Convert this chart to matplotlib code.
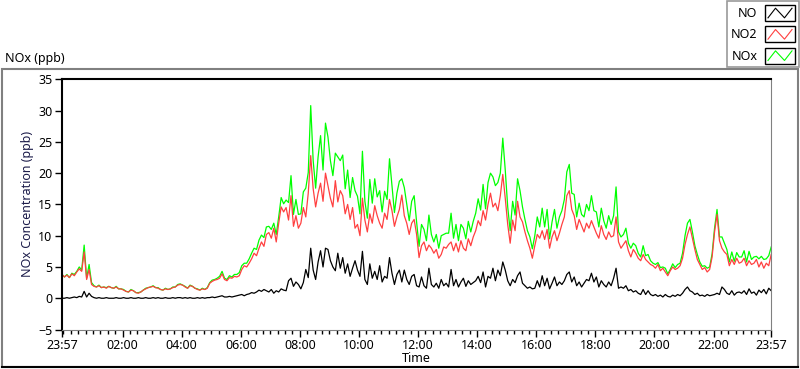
import numpy as np
import matplotlib
matplotlib.use("Agg")
import matplotlib.pyplot as plt
from matplotlib.lines import Line2D
from matplotlib.patches import Rectangle
from matplotlib.legend_handler import HandlerBase

plt.rcParams['font.family'] = ['Noto Sans', 'DejaVu Sans']
plt.rcParams['font.size'] = 9

# 5 minute readings starting 23:57, one row per hour (12 values)
no2 = [
    3.8, 3.4, 3.7, 3.3, 3.9, 3.6, 4.2, 4.7, 4.3, 7.4, 3.0, 4.6,
    2.2, 1.9, 1.8, 2.0, 1.7, 1.8, 1.6, 1.9, 1.7, 1.6, 1.8, 1.5,
    1.5, 1.3, 1.1, 1.0, 1.3, 1.2, 0.9, 0.8, 1.0, 1.3, 1.5, 1.7,
    1.8, 1.9, 1.7, 1.6, 1.4, 1.3, 1.5, 1.4, 1.5, 1.7, 1.8, 2.1,
    2.2, 2.1, 1.8, 1.6, 2.0, 1.9, 1.6, 1.4, 1.3, 1.5, 1.4, 1.6,
    2.4, 2.7, 2.9, 3.0, 3.2, 3.9, 3.0, 2.8, 3.3, 3.2, 3.5, 3.4,
    3.6, 4.6, 5.2, 5.0, 5.6, 6.3, 7.2, 6.8, 8.0, 9.0, 8.3, 10.2,
    10.5, 9.6, 11.2, 9.0, 12.0, 14.6, 13.8, 14.5, 12.5, 16.4, 11.5, 13.2,
    11.2, 12.0, 14.5, 13.0, 16.8, 22.8, 17.5, 14.6, 16.8, 18.4, 15.5, 20.0,
    18.0, 16.0, 14.6, 18.8, 15.4, 17.2, 16.4, 13.5, 15.0, 12.6, 14.5, 11.2,
    11.8, 10.0, 16.0, 12.5, 10.6, 13.5, 12.0, 14.8, 13.2, 12.0, 11.2, 13.6,
    12.6, 15.8, 14.0, 11.5, 13.0, 14.2, 16.5, 13.2, 12.0, 10.2, 12.0, 12.6,
    10.2, 6.5, 8.4, 9.0, 7.6, 8.5, 8.0, 7.2, 7.8, 6.4, 7.0, 8.2,
    8.0, 8.6, 9.0, 7.6, 8.8, 7.4, 9.2, 8.0, 7.6, 9.5, 8.4, 9.8,
    10.8, 12.4, 11.6, 14.0, 12.5, 15.0, 16.8, 14.6, 15.2, 14.0, 16.4, 19.8,
    16.0, 11.8, 8.8, 12.5, 10.8, 15.5, 13.0, 12.2, 10.6, 9.2, 8.0, 6.4,
    8.4, 10.2, 9.6, 10.8, 9.4, 11.0, 8.0, 9.8, 10.8, 9.2, 10.4, 11.8,
    13.0, 16.4, 17.2, 14.2, 13.2, 11.0, 12.6, 11.6, 10.6, 12.0, 11.2, 12.4,
    11.4, 10.4, 9.6, 11.6, 10.2, 9.4, 10.6, 9.8, 10.0, 13.0, 9.0, 8.0,
    8.6, 9.2, 7.6, 6.6, 7.8, 7.2, 6.4, 6.0, 7.0, 6.2, 5.8, 5.4,
    5.2, 4.8, 5.4, 4.4, 4.8, 4.2, 3.6, 4.4, 5.0, 4.6, 4.8, 5.2,
    6.4, 8.6, 10.2, 11.4, 9.6, 7.8, 6.2, 5.4, 4.6, 4.9, 4.2, 4.6,
    6.6, 10.6, 13.4, 9.2, 8.0, 7.4, 7.0, 5.2, 6.2, 5.4, 6.4, 5.6,
    5.8, 6.4, 5.2, 6.0, 5.4, 5.6, 6.2, 5.0, 5.8, 4.8, 5.6, 5.2,
    7.0,
]

no = [
    0.0, 0.0, 0.1, 0.0, 0.1, 0.2, 0.1, 0.3, 0.2, 1.1, 0.2, 0.8,
    0.3, 0.1, 0.0, 0.1, 0.0, 0.0, 0.1, 0.0, 0.0, 0.0, 0.1, 0.0,
    0.0, 0.1, 0.0, 0.0, 0.1, 0.0, 0.0, 0.1, 0.0, 0.0, 0.1, 0.0,
    0.0, 0.1, 0.0, 0.1, 0.0, 0.0, 0.1, 0.0, 0.0, 0.1, 0.0, 0.1,
    0.1, 0.0, 0.1, 0.0, 0.1, 0.0, 0.0, 0.1, 0.0, 0.1, 0.0, 0.1,
    0.1, 0.2, 0.1, 0.2, 0.3, 0.4, 0.2, 0.2, 0.3, 0.2, 0.3, 0.4,
    0.5, 0.6, 0.4, 0.6, 0.7, 0.9, 0.8, 1.0, 1.3, 1.1, 1.4, 1.2,
    1.0, 1.4, 0.8, 1.2, 1.0, 1.5, 1.3, 1.2, 2.8, 3.2, 1.9, 2.6,
    2.2, 1.5, 2.5, 4.6, 3.3, 8.0, 4.5, 3.0, 5.8, 7.6, 5.0, 8.0,
    7.8, 6.0, 5.0, 4.4, 7.2, 4.8, 6.5, 4.0, 5.5, 3.5, 4.8, 6.0,
    4.5, 3.5, 7.5, 3.0, 2.2, 5.5, 3.2, 4.3, 3.0, 5.2, 2.6, 3.5,
    3.2, 6.5, 4.0, 2.2, 3.8, 4.5, 2.6, 4.5, 3.0, 2.2, 3.5, 3.8,
    2.0, 1.8, 3.4, 2.0, 1.6, 4.8, 2.2, 1.8, 2.4, 1.6, 3.0, 2.0,
    2.4, 1.8, 4.6, 2.0, 3.0, 1.8, 2.6, 3.2, 1.9, 2.8, 2.2, 2.5,
    2.8, 3.5, 2.5, 4.2, 1.8, 3.5, 3.2, 4.8, 2.8, 4.5, 3.6, 5.8,
    4.5, 2.8, 2.0, 3.0, 2.5, 3.6, 4.2, 2.4, 2.0, 1.6, 1.8, 1.5,
    1.6, 2.8, 1.8, 3.6, 2.0, 3.2, 1.5, 2.4, 3.4, 2.0, 2.6, 2.2,
    2.8, 3.8, 4.2, 2.6, 3.4, 2.0, 2.6, 1.8, 2.4, 3.0, 2.8, 4.0,
    2.6, 3.4, 1.8, 2.8, 2.2, 1.8, 2.6, 2.0, 3.2, 4.8, 1.6, 1.8,
    1.6, 2.0, 1.2, 1.4, 1.0, 1.2, 0.8, 0.6, 1.4, 0.6, 1.2, 0.6,
    0.4, 0.6, 0.3, 0.5, 0.2, 0.6, 0.3, 0.2, 0.5, 0.3, 0.6, 0.4,
    0.8, 1.4, 1.8, 1.2, 1.0, 0.6, 0.8, 0.4, 0.5, 0.3, 0.6, 0.4,
    0.5, 0.6, 0.8, 0.6, 1.8, 1.4, 0.8, 0.6, 1.2, 0.5, 0.9, 1.0,
    0.8, 1.2, 0.6, 1.5, 0.8, 1.0, 0.5, 1.3, 0.9, 1.4, 0.7, 1.6,
    1.2,
]

start_hour = -0.05     # 23:57 of the previous day
step_hours = 5 / 60
tick_hours = [-0.05, 2, 4, 6, 8, 10, 12, 14, 16, 18, 20, 22, 23.95]
tick_labels = ['23:57', '02:00', '04:00', '06:00', '08:00', '10:00', '12:00',
               '14:00', '16:00', '18:00', '20:00', '22:00', '23:57']

no = np.array(no)
no2 = np.array(no2)
nox = no + no2
t = start_hour + step_hours * np.arange(len(no))

fig = plt.figure(figsize=(8, 3.69), dpi=100)
ax = fig.add_axes([0.0775, 0.107, 0.8865, 0.678])

ax.plot(t, nox, color='#00ff00', lw=0.9)
ax.plot(t, no2, color='#ff4040', lw=0.9)
ax.plot(t, no, color='black', lw=0.9)

ax.set_xlim(-0.05, 23.95)
ax.set_ylim(-5, 35)
ax.set_yticks(range(-5, 36, 5))
ax.set_xticks(tick_hours)
ax.set_xticklabels(tick_labels)
ax.set_xticks(np.arange(0, 24, 0.25), minor=True)
ax.tick_params(axis='both', which='major', length=5, width=1, direction='out', pad=2)
ax.tick_params(axis='x', which='minor', length=3, width=1, direction='out')

ax.spines['left'].set_color('black')
ax.spines['left'].set_linewidth(1.5)
ax.spines['top'].set_color('black')
ax.spines['top'].set_linewidth(1.5)
ax.spines['right'].set_color('#808080')
ax.spines['bottom'].set_color('#808080')

ax.set_xlabel('Time', labelpad=0)
ax.set_ylabel('NOx Concentration (ppb)', labelpad=3, color='#1c1c4a')

# outer panel frame and caption
fig.patches.append(Rectangle((0.002, 0.006), 0.995, 0.806, transform=fig.transFigure,
                             fill=False, edgecolor='#808080', lw=1.5))
fig.lines.append(Line2D([0.002, 0.997], [0.006, 0.006], transform=fig.transFigure,
                        color='black', lw=1.5))
fig.text(0.006, 0.824, 'NOx (ppb)', ha='left', va='bottom')


class ZigzagHandler(HandlerBase):
    def create_artists(self, legend, orig, xd, yd, width, height, fontsize, trans):
        box = Rectangle((-xd, -yd), width, height, fill=False, edgecolor='black',
                        lw=1, transform=trans)
        xs = [-xd + width * f for f in (0.1, 0.35, 0.65, 0.9)]
        ys = [-yd + height * f for f in (0.2, 0.8, 0.2, 0.8)]
        zz = Line2D(xs, ys, color=orig.get_color(), lw=0.8, transform=trans)
        return [box, zz]


handles = [Line2D([], [], color='black'), Line2D([], [], color='#ff4040'),
           Line2D([], [], color='#00ff00')]
leg = fig.legend(handles, ['NO', 'NO2', 'NOx'], loc='upper right',
                 bbox_to_anchor=(1.0, 1.0), markerfirst=False, frameon=True,
                 fancybox=False, edgecolor='#808080', handlelength=2.4,
                 handleheight=1.6, labelspacing=0.42, borderpad=0.3,
                 handletextpad=0.6, borderaxespad=0.1,
                 handler_map={Line2D: ZigzagHandler()})
leg.get_frame().set_linewidth(1.2)

fig.savefig('out.png', dpi=100)
